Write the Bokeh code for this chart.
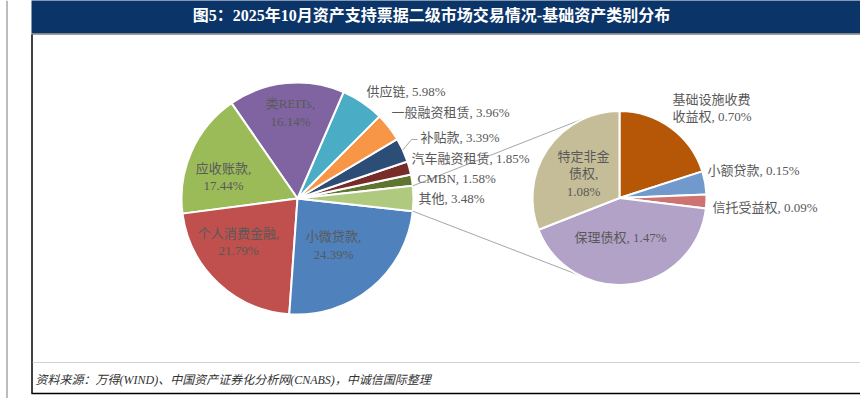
import numpy as np
from bokeh.plotting import figure
from bokeh.models import Range1d, ColumnDataSource
from bokeh.core.properties import value
from bokeh.embed import file_html
from bokeh.resources import INLINE

# ---------------- data ----------------
main_categories = ["CMBN", "汽车融资租赁", "补贴款", "一般融资租赁", "供应链",
                   "类REITs", "应收账款", "个人消费金融", "小微贷款"]
main_values = [1.58, 1.85, 3.39, 3.96, 5.98, 16.14, 17.44, 21.79, 24.39]
other_category = "其他"
other_value = 3.48
sub_categories = ["基础设施收费收益权", "小额贷款", "信托受益权", "保理债权", "特定非金债权"]
sub_values = [0.70, 0.15, 0.09, 1.47, 1.08]
title_text = "图5：2025年10月资产支持票据二级市场交易情况-基础资产类别分布"
source_text = "资料来源：万得(WIND)、中国资产证券化分析网(CNABS)，中诚信国际整理"

# ---------------- styles / layout ----------------
main_colors = ["#5F7530", "#772C2A", "#2C4D75", "#F79646", "#4BACC6",
               "#8064A2", "#9BBB59", "#C0504D", "#4F81BD"]
other_color = "#AFC97F"
sub_colors = ["#B65708", "#7199CC", "#CD7371", "#B3A2C7", "#C4BD97"]

FONT = "'Liberation Serif', 'Noto Sans CJK SC', serif"
LABEL_COLOR = "#595959"
W, H = 860, 398


def Y(sy):
    return H - sy


# pie geometry (screen px)
L_CX, L_CY, L_R = 297, 198, 116
R_CX, R_CY, R_R = 619, 197.5, 87

# label layout: (mode, dx, dy, name_chunks, pct_newline)
main_label_layout = {
    "CMBN": ("left", 120, 20, None, False),
    "汽车融资租赁": ("left", 114, 40, None, False),
    "补贴款": ("left", 123, 61, None, False),
    "一般融资租赁": ("left", 94, 86, None, False),
    "供应链": ("left", 69, 107, None, False),
    "类REITs": ("center", -7, 86, None, True),
    "应收账款": ("center", -74, 21.5, None, True),
    "个人消费金融": ("center", -59, -43.5, None, True),
    "小微贷款": ("center", 36, -47, None, True),
}
other_label_layout = ("left", 121, 0, None, False)
sub_label_layout = {
    "基础设施收费收益权": ("left", 53, 90, [6, 3], False),
    "小额贷款": ("left", 88, 27.5, None, False),
    "信托受益权": ("left", 93, -9.5, None, False),
    "保理债权": ("center", 1, -39.5, None, False),
    "特定非金债权": ("center", -36, 24.5, [4, 2], True),
}
LINE_H = 17.5


def label_lines(name, v, chunks, pct_newline):
    pct = f"{v:.2f}%"
    parts = []
    if chunks:
        i = 0
        for c in chunks:
            parts.append(name[i:i + c])
            i += c
    else:
        parts = [name]
    if pct_newline:
        return parts[:-1] + [parts[-1] + ","] + [pct]
    return parts[:-1] + [parts[-1] + ", " + pct]


p = figure(width=W, height=H, x_range=Range1d(0, W), y_range=Range1d(0, H),
           output_backend="svg", toolbar_location=None, min_border=0)
p.axis.visible = False
p.grid.visible = False
p.outline_line_color = None
p.background_fill_color = "white"
p.border_fill_color = "white"

# ---------------- frame ----------------
p.quad(left=[31], right=[870], bottom=[Y(33)], top=[Y(-5)], fill_color="#0B3468", line_color=None)
p.segment(x0=[31], y0=[Y(33.5)], x1=[870], y1=[Y(33.5)], line_color="#7F7F7F", line_width=1.5)
p.segment(x0=[31.5], y0=[Y(34)], x1=[31.5], y1=[Y(393)], line_color="black", line_width=1.5)
p.segment(x0=[31], y0=[Y(393)], x1=[870], y1=[Y(393)], line_color="black", line_width=1.5)
p.segment(x0=[6.5], y0=[Y(0)], x1=[6.5], y1=[Y(400)], line_color="#A6A6A6", line_width=1.5)
p.segment(x0=[32], y0=[Y(362)], x1=[870], y1=[Y(362)], line_color="#A6A6A6", line_width=1,
          line_dash="1 1")
p.text(x=[431], y=[Y(15)], text=[title_text], text_align="center", text_baseline="middle",
       text_color="white", text_font=value(FONT), text_font_style="bold", text_font_size="16px")
p.text(x=[35], y=[Y(379)], text=[source_text], text_align="left", text_baseline="middle",
       text_color="#333333", text_font=value(FONT), text_font_style="italic", text_font_size="12px")

# ---------------- main pie ----------------
total_main = sum(main_values) + other_value
half_other = other_value / total_main * 360 / 2
starts, ends = [], []
a = half_other
for v in main_values:
    starts.append(a)
    a += v / total_main * 360
    ends.append(a)
main_src = ColumnDataSource(dict(start=np.radians(starts), end=np.radians(ends), color=main_colors))
p.wedge(x=L_CX, y=Y(L_CY), radius=L_R, start_angle="start", end_angle="end",
        direction="anticlock", fill_color="color",
        line_color="white", line_width=2, source=main_src)
p.wedge(x=L_CX, y=Y(L_CY), radius=L_R, start_angle=[np.radians(-half_other)],
        end_angle=[np.radians(half_other)], direction="anticlock", fill_color=other_color,
        line_color="white", line_width=2)

# ---------------- sub pie ----------------
total_sub = sum(sub_values)
s_starts, s_ends = [], []
a = 90.0
for v in sub_values:
    b = a - v / total_sub * 360
    s_starts.append(b)
    s_ends.append(a)
    a = b

# connector lines (from edges of "other" slice to sub pie)
top_a, bot_a = np.radians(112), np.radians(-117)
ho = np.radians(half_other)
p.segment(x0=[L_CX + L_R * np.cos(ho), L_CX + L_R * np.cos(-ho)],
          y0=[Y(L_CY - L_R * np.sin(ho)), Y(L_CY + L_R * np.sin(ho))],
          x1=[R_CX + R_R * np.cos(top_a), R_CX + R_R * np.cos(bot_a)],
          y1=[Y(R_CY - R_R * np.sin(top_a)), Y(R_CY - R_R * np.sin(bot_a))],
          line_color="#A6A6A6", line_width=1)

sub_src = ColumnDataSource(dict(start=np.radians(s_starts), end=np.radians(s_ends), color=sub_colors))
p.wedge(x=R_CX, y=Y(R_CY), radius=R_R, start_angle="start", end_angle="end",
        direction="anticlock", fill_color="color",
        line_color="white", line_width=2, source=sub_src)

# leader line for 补贴款
idx = main_categories.index("补贴款")
mid = np.radians((starts[idx] + ends[idx]) / 2)
ex, ey = L_CX + L_R * np.cos(mid), L_CY - L_R * np.sin(mid)
lay = main_label_layout["补贴款"]
p.line(x=[ex, L_CX + lay[1] - 9, L_CX + lay[1] - 3],
       y=[Y(ey), Y(L_CY - lay[2] + 2), Y(L_CY - lay[2] + 2)],
       line_color="#A6A6A6", line_width=1)

# ---------------- labels ----------------
tx, ty, tt, ta = [], [], [], []


def add_label(cx, cy, name, v, layout):
    mode, dx, dy, chunks, pnl = layout
    lines = label_lines(name, v, chunks, pnl)
    n = len(lines)
    yc = cy - dy
    for i, ln in enumerate(lines):
        tx.append(cx + dx)
        ty.append(Y(yc + (i - (n - 1) / 2) * LINE_H))
        tt.append(ln)
        ta.append(mode)


for name, v in zip(main_categories, main_values):
    add_label(L_CX, L_CY, name, v, main_label_layout[name])
add_label(L_CX, L_CY, other_category, other_value, other_label_layout)
for name, v in zip(sub_categories, sub_values):
    add_label(R_CX, R_CY, name, v, sub_label_layout[name])

p.text(x="x", y="y", text="t", text_align="a", text_baseline="middle",
       text_color=LABEL_COLOR, text_font=value(FONT), text_font_size="13px",
       source=ColumnDataSource(dict(x=tx, y=ty, t=tt, a=ta)))

open("out.html", "w").write(file_html(p, INLINE))
